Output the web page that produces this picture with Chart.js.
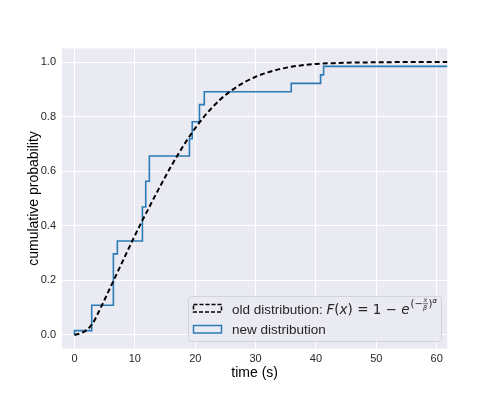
<!DOCTYPE html>
<html>
<head>
<meta charset="utf-8">
<script src="https://cdn.jsdelivr.net/npm/chart.js@4.4.0/dist/chart.umd.min.js"></script>
<style>
  body { margin: 0; background: #ffffff; }
  #wrap { width: 498px; height: 399px; }
</style>
</head>
<body>
<div id="wrap"><canvas id="myChart" width="498" height="399"></canvas></div>
<script>
// old distribution (dashed curve)
var oldX = [0, 1, 2, 3, 4, 5, 6, 7, 8, 9, 10, 11, 12, 13, 14, 15, 16, 17, 18, 19, 20,
            21, 22, 23, 24, 25, 26, 28, 30, 32, 34, 36, 38, 40, 43, 46, 50, 55, 62];
var oldY = [0, 0.006, 0.018, 0.042, 0.084, 0.13, 0.177, 0.224, 0.271, 0.318, 0.364, 0.409, 0.452,
            0.495, 0.537, 0.578, 0.618, 0.656, 0.692, 0.726, 0.758, 0.787, 0.814, 0.838, 0.86,
            0.879, 0.896, 0.924, 0.946, 0.962, 0.974, 0.983, 0.989, 0.993, 0.996, 0.998, 0.999, 1.0, 1.0];

// new distribution (cumulative step histogram): bin edges where level changes, and level after edge
var newEdges = [0, 0, 2.85, 6.44, 7.1, 11.25, 11.8, 12.4, 19.04, 19.5, 20.7, 21.5, 35.9, 40.76, 41.26, 70];
var newLevels = [0, 0.016, 0.109, 0.297, 0.344, 0.469, 0.563, 0.656, 0.719, 0.781, 0.844, 0.891, 0.922, 0.953, 0.984, 0.984];

var xTicks = [0, 10, 20, 30, 40, 50, 60];
var yTicks = [0, 0.2, 0.4, 0.6, 0.8, 1.0];

var oldPoints = oldX.map(function (x, i) { return {x: x, y: oldY[i]}; });
var newPoints = newEdges.map(function (x, i) { return {x: x, y: newLevels[i]}; });

var textColor = '#262626';
var blue = '#2c7bb6';

// plot background (seaborn darkgrid look)
var bgPlugin = {
  id: 'bg',
  beforeDraw: function (chart) {
    var a = chart.chartArea, ctx = chart.ctx;
    ctx.save();
    ctx.fillStyle = '#eaeaf2';
    ctx.fillRect(a.left, a.top, a.right - a.left, a.bottom - a.top);
    ctx.restore();
  }
};

// matplotlib-like legend with the math label
var legendPlugin = {
  id: 'mplLegend',
  afterDatasetsDraw: function (chart) {
    var ctx = chart.ctx;
    var bx = 188.5, by = 296.5, bw = 253, bh = 45;
    ctx.save();
    ctx.fillStyle = 'rgba(234,234,242,0.85)';
    ctx.strokeStyle = '#d2d2da';
    ctx.lineWidth = 1;
    ctx.beginPath();
    ctx.roundRect(bx, by, bw, bh, 3);
    ctx.fill();
    ctx.stroke();

    // handles
    ctx.lineWidth = 1.5;
    ctx.setLineDash([4, 2]);
    ctx.strokeStyle = '#000000';
    ctx.strokeRect(193.5, 304.5, 28, 7.5);
    ctx.setLineDash([]);
    ctx.strokeStyle = blue;
    ctx.strokeRect(193.5, 325.5, 28, 7.5);

    ctx.fillStyle = textColor;
    ctx.textBaseline = 'alphabetic';
    var base = '13.5px "Liberation Sans", Arial, sans-serif';
    var ital = 'italic 13.5px "DejaVu Sans", sans-serif';
    var norm = '13.5px "DejaVu Sans", sans-serif';
    var x = 232, y = 314;
    function put(txt, font, dy) {
      ctx.font = font;
      ctx.fillText(txt, x, y + (dy || 0));
      x += ctx.measureText(txt).width;
    }
    put('old distribution: ', base);
    put('F', ital);
    put('(', norm);
    put('x', ital);
    put(')', norm);
    put(' = 1 \u2212 ', norm);
    put('e', ital);
    // superscript (−x/β)^α
    var sup = '10px "DejaVu Sans", sans-serif';
    x += 1;
    put('(\u2212', sup, -7);
    ctx.font = 'italic 6.5px "DejaVu Sans", sans-serif';
    var fw = Math.max(ctx.measureText('x').width, ctx.measureText('\u03b2').width);
    ctx.fillText('x', x + 0.6, y - 12);
    ctx.fillText('\u03b2', x + 0.3, y - 4.5);
    ctx.fillRect(x, y - 10.5, fw + 1, 0.6);
    x += fw + 1.5;
    put(')', sup, -7);
    put('\u03b1', 'italic 7.5px "DejaVu Sans", sans-serif', -11.5);

    ctx.font = base;
    ctx.fillText('new distribution', 232, 334);
    ctx.restore();
  }
};

var chart = new Chart(document.getElementById('myChart'), {
  type: 'line',
  data: {
    datasets: [
      {
        label: 'old distribution',
        data: oldPoints,
        borderColor: '#000000',
        borderWidth: 2,
        borderDash: [5, 3],
        pointRadius: 0,
        cubicInterpolationMode: 'monotone',
        fill: false,
        order: 1
      },
      {
        label: 'new distribution',
        data: newPoints,
        borderColor: blue,
        borderWidth: 1.6,
        stepped: 'before',
        pointRadius: 0,
        fill: false,
        order: 2
      }
    ]
  },
  options: {
    responsive: false,
    animation: false,
    devicePixelRatio: 1,
    layout: { padding: { left: 0, right: 50.7, top: 48.4, bottom: 0 } },
    plugins: { legend: { display: false }, tooltip: { enabled: false } },
    scales: {
      x: {
        type: 'linear',
        min: -2.07,
        max: 61.75,
        afterBuildTicks: function (s) { s.ticks = xTicks.map(function (v) { return {value: v}; }); },
        afterFit: function (s) { s.height = 50.4; },
        grid: { color: '#ffffff', lineWidth: 1, drawTicks: false },
        border: { display: false },
        ticks: { color: textColor, font: { family: '"Liberation Sans", Arial', size: 11 }, padding: 4, maxRotation: 0 },
        title: { display: true, text: 'time (s)', color: '#000000',
                 font: { family: '"Liberation Sans", Arial', size: 14 }, padding: { top: 0, bottom: 17 } }
      },
      y: {
        type: 'linear',
        min: -0.05,
        max: 1.05,
        afterBuildTicks: function (s) { s.ticks = yTicks.map(function (v) { return {value: v}; }); },
        afterFit: function (s) { s.width = 62; },
        grid: { color: '#ffffff', lineWidth: 1, drawTicks: false },
        border: { display: false },
        ticks: { color: textColor, font: { family: '"Liberation Sans", Arial', size: 11 }, padding: 6,
                 callback: function (v) { return v.toFixed(1); } },
        title: { display: true, text: 'cumulative probability', color: '#000000',
                 font: { family: '"Liberation Sans", Arial', size: 14 }, padding: { top: 26, bottom: 0 } }
      }
    }
  },
  plugins: [bgPlugin, legendPlugin]
});
</script>
</body>
</html>
